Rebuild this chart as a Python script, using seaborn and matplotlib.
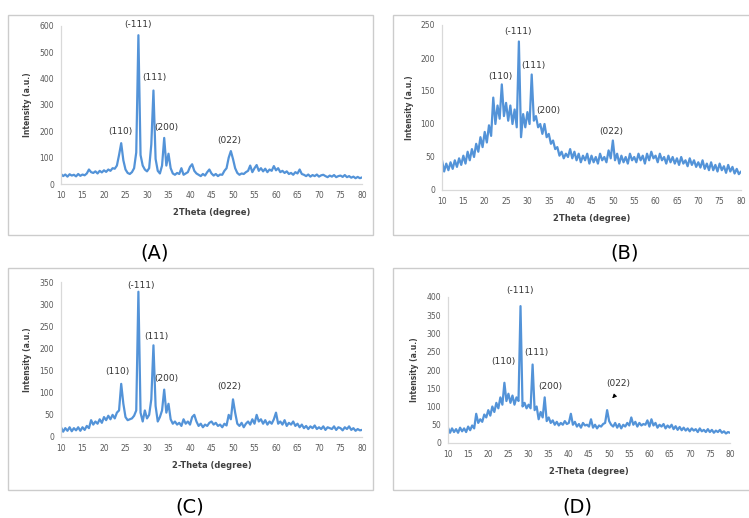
# %% packages
import numpy as np
import pandas as pd
import seaborn as sns
import matplotlib.pyplot as plt
from matplotlib.patches import Rectangle

# %% data (0.5 degree steps from 10 to 80)
two_theta = np.arange(10, 80.5, 0.5)

intensity_a = [
    38, 30, 36, 28, 37, 32, 35, 29, 38, 31,
    36, 33, 40, 55, 45, 42, 48, 40, 50, 44,
    52, 46, 55, 50, 60, 58, 70, 110, 155, 90,
    55, 42, 38, 45, 60, 120, 565, 110, 70, 55,
    48, 60, 150, 355, 95, 50, 40, 70, 175, 70,
    115, 60, 40, 35, 42, 38, 60, 35, 40, 45,
    65, 75, 50, 40, 35, 30, 38, 32, 45, 55,
    40, 32, 38, 30, 36, 35, 50, 60, 100, 125,
    95, 60, 42, 35, 40, 38, 45, 50, 70, 45,
    60, 72, 50, 60, 48, 58, 45, 55, 50, 68,
    52, 60, 45, 50, 42, 48, 38, 42, 35, 45,
    40, 55, 38, 35, 30, 36, 28, 34, 30, 36,
    28, 33, 35, 30, 26, 32, 28, 34, 26, 30,
    32, 27, 34, 26, 30, 24, 28, 22, 27, 22,
    25]

intensity_b = [
    45, 28, 40, 30, 42, 32, 45, 35, 48, 38,
    52, 40, 58, 45, 62, 50, 70, 58, 80, 65,
    88, 72, 98, 82, 140, 100, 128, 108, 160, 112,
    132, 105, 128, 100, 122, 95, 225, 80, 115, 95,
    118, 100, 175, 105, 112, 95, 100, 85, 100, 80,
    85, 70, 75, 62, 65, 52, 58, 48, 55, 50,
    62, 48, 58, 45, 55, 42, 52, 45, 55, 40,
    52, 42, 50, 40, 55, 45, 50, 42, 60, 48,
    75, 45, 55, 40, 52, 42, 50, 40, 55, 45,
    50, 42, 55, 45, 52, 40, 55, 45, 58, 48,
    52, 42, 55, 45, 50, 40, 52, 42, 50, 40,
    48, 38, 50, 40, 45, 36, 48, 38, 45, 35,
    42, 34, 45, 32, 40, 30, 42, 30, 38, 28,
    40, 30, 36, 26, 38, 28, 35, 25, 32, 24,
    28]

intensity_c = [
    22, 12, 20, 14, 22, 13, 20, 15, 22, 14,
    22, 16, 25, 20, 38, 28, 35, 30, 40, 32,
    45, 38, 48, 40, 50, 42, 55, 60, 120, 75,
    45, 38, 40, 42, 48, 60, 328, 55, 35, 60,
    42, 50, 85, 207, 70, 35, 45, 60, 107, 55,
    75, 40, 30, 35, 28, 32, 25, 40, 30, 35,
    28, 45, 50, 35, 25, 30, 22, 28, 25, 32,
    35, 28, 32, 25, 28, 22, 30, 26, 50, 40,
    85, 55, 30, 25, 32, 22, 30, 35, 28, 40,
    30, 50, 35, 40, 30, 38, 28, 35, 30, 40,
    55, 30, 35, 28, 38, 25, 32, 28, 35, 25,
    30, 22, 28, 20, 25, 18, 24, 20, 26, 18,
    22, 18, 24, 16, 22, 20, 18, 24, 16, 22,
    20, 15, 22, 18, 24, 16, 20, 14, 18, 15,
    16]

intensity_d = [
    42, 28, 40, 30, 38, 28, 42, 32, 40, 30,
    45, 35, 48, 40, 80, 55, 65, 58, 78, 70,
    90, 75, 100, 85, 110, 95, 125, 105, 165, 115,
    135, 110, 130, 105, 125, 115, 375, 100, 110, 95,
    105, 95, 215, 90, 100, 65, 85, 70, 125, 60,
    70, 55, 62, 50, 58, 48, 55, 50, 60, 52,
    55, 80, 50, 58, 45, 52, 42, 55, 48, 50,
    45, 65, 42, 50, 40, 48, 45, 52, 55, 90,
    60, 50, 45, 55, 42, 52, 40, 50, 45, 55,
    48, 70, 50, 58, 45, 55, 48, 52, 50, 62,
    45, 65, 48, 55, 42, 50, 45, 52, 40, 48,
    42, 50, 38, 46, 36, 44, 35, 42, 34, 40,
    32, 40, 34, 38, 30, 40, 32, 36, 30, 38,
    30, 36, 28, 34, 30, 36, 28, 32, 26, 30,
    28]

peak_labels = ['(110)', '(-111)', '(111)', '(200)', '(022)']
# label anchor positions (2theta, intensity) for each panel
label_pos_a = [(23.7, 200), (27.9, 605), (31.8, 404), (34.6, 215), (49.2, 165)]
label_pos_b = [(23.6, 172), (27.7, 240), (31.5, 189), (35.0, 121), (49.7, 88)]
label_pos_c = [(23.2, 147), (28.6, 341), (32.1, 228), (34.6, 132), (49.2, 114)]
label_pos_d = [(23.7, 223), (27.9, 417), (32.0, 247), (35.3, 156), (52.3, 163)]

for arr in [intensity_a, intensity_b, intensity_c, intensity_d]:
    assert len(arr) == len(two_theta), len(arr)

# %% style
sns.set_theme(style='white')
plt.rcParams['font.family'] = ['DejaVu Sans']

W, H = 749, 518
line_col = '#5393d8'
grid_col = '#d9d9d9'
txt_col = '#595959'

fig = plt.figure(figsize=(W / 100, H / 100), dpi=100)


def px_axes(left, top, right, bottom):
    # pixel box -> figure fractions
    return [left / W, 1 - bottom / H, (right - left) / W, (bottom - top) / H]


def draw_panel(rect, y, ymax, ystep, xlab, labels_pos, letter, letter_xy, box):
    fig.add_artist(Rectangle((box[0] / W, 1 - box[3] / H), (box[2] - box[0]) / W,
                             (box[3] - box[1]) / H, transform=fig.transFigure,
                             fill=False, ec='#cccccc', lw=1))
    ax = fig.add_axes(px_axes(*rect))
    df = pd.DataFrame({'two_theta': two_theta, 'intensity': y})
    sns.lineplot(data=df, x='two_theta', y='intensity', ax=ax, color=line_col, lw=1.6)
    ax.set_xlim(10, 80)
    ax.set_ylim(0, ymax)
    ax.set_xticks(range(10, 81, 5))
    ax.set_yticks(range(0, ymax + 1, ystep))
    ax.tick_params(length=0, labelsize=5.5, labelcolor=txt_col, pad=5)
    for s in ['top', 'right']:
        ax.spines[s].set_visible(False)
    for s in ['left', 'bottom']:
        ax.spines[s].set_color(grid_col)
        ax.spines[s].set_linewidth(0.9)
    ax.set_xlabel(xlab, fontsize=6, fontweight='bold', color='#404040', labelpad=6)
    ax.set_ylabel('Intensity (a.u.)', fontsize=5.5, fontweight='bold', color='#404040', labelpad=5)
    ax.patch.set_alpha(0)
    for lab, (px, py) in zip(peak_labels, labels_pos):
        ax.text(px, py, lab, fontsize=6.5, color='#333333', ha='center', va='center', clip_on=False)
    fig.text(letter_xy[0] / W, 1 - letter_xy[1] / H, letter, fontsize=14,
             ha='center', va='center', color='black')
    return ax


draw_panel((61, 26, 362, 184), intensity_a, 600, 100, '2Theta (degree)',
           label_pos_a, '(A)', (155, 253), (8, 15, 373, 235))
draw_panel((442, 25, 741, 190), intensity_b, 250, 50, '2Theta (degree)',
           label_pos_b, '(B)', (625, 253), (393, 15, 760, 235))
draw_panel((61, 282, 362, 437), intensity_c, 350, 50, '2-Theta (degree)',
           label_pos_c, '(C)', (190, 507), (8, 268, 373, 490))
ax_d = draw_panel((448, 297, 730, 443), intensity_d, 400, 50, '2-Theta (degree)',
                  label_pos_d, '(D)', (577, 507), (393, 268, 760, 490))

# small arrow marking the (022) reflection in panel D
ax_d.annotate('', xy=(50.3, 117), xytext=(51.6, 132),
              arrowprops=dict(arrowstyle='-|>', color='black', lw=0.6, mutation_scale=6))

fig.savefig('out.png', dpi=100)
